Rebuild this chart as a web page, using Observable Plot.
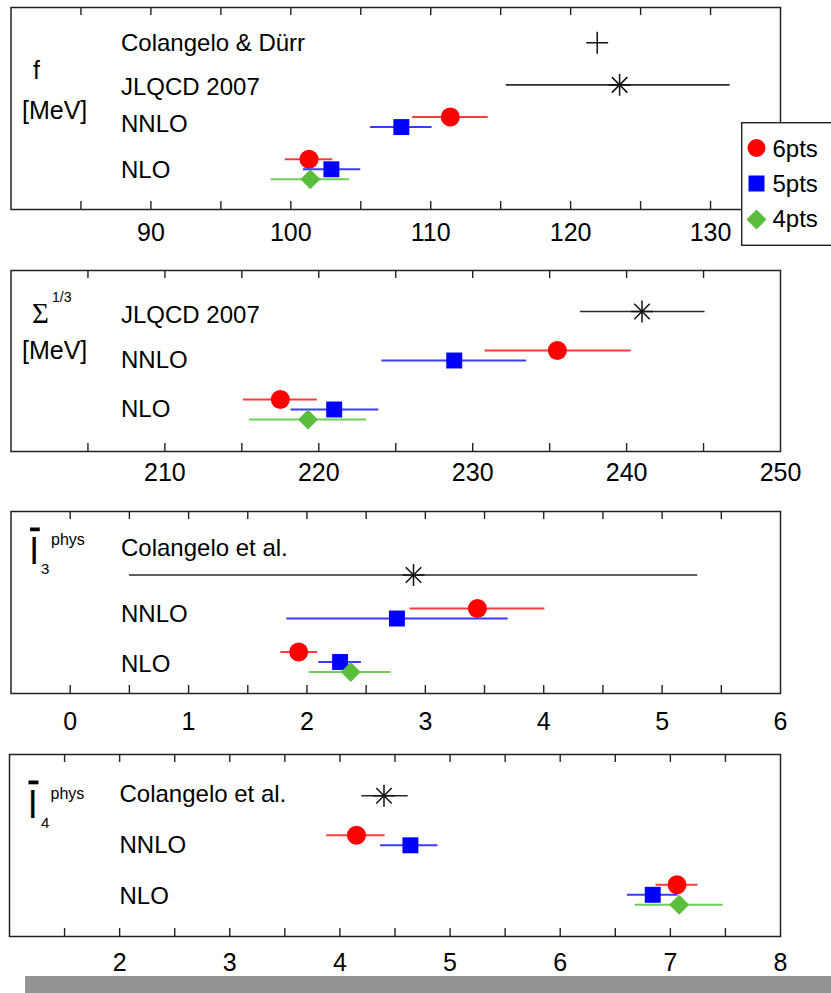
<!DOCTYPE html>
<html>
<head>
<meta charset="utf-8">
<script src="https://cdn.jsdelivr.net/npm/d3@7"></script>
<script src="https://cdn.jsdelivr.net/npm/@observablehq/plot@0.6"></script>
<style>
  body { margin: 0; background: #fff; }
  #chart { position: relative; width: 831px; height: 993px; overflow: hidden; background: #fff;
           font-family: "Liberation Sans", Arial, Helvetica, sans-serif; }
  #chart > svg { display: block; }
  #legend { position: absolute; left: 741px; top: 122px; }
  #graybar { position: absolute; left: 25px; top: 976px; width: 806px; height: 17px; background: #939393; }
</style>
</head>
<body>
<div id="chart"></div>
<script>
// ---------------- data ----------------
const seriesNames = ["6pts", "5pts", "4pts"];

// f [MeV]
const fRefNames  = ["Colangelo & Dürr", "JLQCD 2007"];
const fRefMarker = ["plus", "asterisk"];
const fRefValue  = [121.9, 123.5];
const fRefLow    = [121.9, 115.4];
const fRefHigh   = [121.9, 131.4];
const fNNLOValue = [111.4, 107.9];
const fNNLOLow   = [108.7, 105.7];
const fNNLOHigh  = [114.1, 110.1];
const fNLOValue  = [101.3, 102.9, 101.4];
const fNLOLow    = [99.6, 100.9, 98.6];
const fNLOHigh   = [103.0, 105.0, 104.2];
const fTickLabels = [90, 100, 110, 120, 130];

// Sigma^(1/3) [MeV]
const sigmaRefNames  = ["JLQCD 2007"];
const sigmaRefMarker = ["asterisk"];
const sigmaRefValue  = [241.0];
const sigmaRefLow    = [237.0];
const sigmaRefHigh   = [245.1];
const sigmaNNLOValue = [235.5, 228.8];
const sigmaNNLOLow   = [230.8, 224.1];
const sigmaNNLOHigh  = [240.3, 233.5];
const sigmaNLOValue  = [217.5, 221.0, 219.3];
const sigmaNLOLow    = [215.1, 218.2, 215.5];
const sigmaNLOHigh   = [219.9, 223.9, 223.1];
const sigmaTickLabels = [210, 220, 230, 240, 250];

// l3 bar phys
const l3RefNames  = ["Colangelo et al."];
const l3RefMarker = ["asterisk"];
const l3RefValue  = [2.9];
const l3RefLow    = [0.5];
const l3RefHigh   = [5.3];
const l3NNLOValue = [3.44, 2.76];
const l3NNLOLow   = [2.87, 1.83];
const l3NNLOHigh  = [4.01, 3.70];
const l3NLOValue  = [1.93, 2.28, 2.37];
const l3NLOLow    = [1.78, 2.10, 2.02];
const l3NLOHigh   = [2.09, 2.46, 2.71];
const l3TickLabels = [0, 1, 2, 3, 4, 5, 6];

// l4 bar phys
const l4RefNames  = ["Colangelo et al."];
const l4RefMarker = ["asterisk"];
const l4RefValue  = [4.40];
const l4RefLow    = [4.20];
const l4RefHigh   = [4.62];
const l4NNLOValue = [4.15, 4.64];
const l4NNLOLow   = [3.88, 4.37];
const l4NNLOHigh  = [4.41, 4.89];
const l4NLOValue  = [7.06, 6.84, 7.08];
const l4NLOLow    = [6.87, 6.61, 6.68];
const l4NLOHigh   = [7.25, 7.07, 7.48];
const l4TickLabels = [2, 3, 4, 5, 6, 7, 8];

// ---------------- styles ----------------
const seriesStyle = {
  "6pts": {symbol: "circle",   r: 9.5, fill: "#ff0000", line: "#ff3b3b", dy: -10},
  "5pts": {symbol: "square",   r: 9.0, fill: "#0000ff", line: "#3b3bff", dy: 0},
  "4pts": {symbol: "diamond2", r: 9.0, fill: "#5bbd3c", line: "#6fcf57", dy: 10}
};
const SANS = "Liberation Sans, Arial, Helvetica, sans-serif";
const SERIF = "Liberation Serif, Times New Roman, serif";

function buildPanel(refNames, refMarker, refValue, refLow, refHigh, nnlo, nnloLo, nnloHi, nlo, nloLo, nloHi) {
  const rows = [...refNames, "NNLO", "NLO"];
  const refs = refNames.map((n, i) => ({row: i, value: refValue[i], lo: refLow[i], hi: refHigh[i], marker: refMarker[i]}));
  const pts = [];
  nnlo.forEach((v, i) => pts.push({row: refNames.length, series: seriesNames[i], value: v, lo: nnloLo[i], hi: nnloHi[i]}));
  nlo.forEach((v, i) => pts.push({row: refNames.length + 1, series: seriesNames[i], value: v, lo: nloLo[i], hi: nloHi[i]}));
  return {rows, refs, pts};
}

const panels = [
  {
    data: buildPanel(fRefNames, fRefMarker, fRefValue, fRefLow, fRefHigh, fNNLOValue, fNNLOLow, fNNLOHigh, fNLOValue, fNLOLow, fNLOHigh),
    ticks: fTickLabels, minor: d3.range(85, 131, 5), xDomain: [80, 135],
    height: 250, mt: 7, mb: 41, ml: 10.5, tickPad: 14, yDomain: [-0.834, 3.953], labelDy: [1, 2, -3, 1],
    side: [
      {t: "f", fs: 25, dx: 22, dy: 71},
      {t: "[MeV]", fs: 25, dx: 11, dy: 111}
    ]
  },
  {
    data: buildPanel(sigmaRefNames, sigmaRefMarker, sigmaRefValue, sigmaRefLow, sigmaRefHigh, sigmaNNLOValue, sigmaNNLOLow, sigmaNNLOHigh, sigmaNLOValue, sigmaNLOLow, sigmaNLOHigh),
    ticks: sigmaTickLabels, minor: d3.range(205, 246, 5), xDomain: [200, 250],
    height: 245, mt: 20, mb: 44, ml: 10.5, tickPad: 12, yDomain: [-0.837, 2.857], labelDy: [4, 0, 0],
    side: [
      {t: "Σ", fs: 29, dx: 21, dy: 52, font: SERIF},
      {t: "1/3", fs: 14, dx: 41, dy: 31},
      {t: "[MeV]", fs: 25, dx: 11, dy: 88}
    ]
  },
  {
    data: buildPanel(l3RefNames, l3RefMarker, l3RefValue, l3RefLow, l3RefHigh, l3NNLOValue, l3NNLOLow, l3NNLOHigh, l3NLOValue, l3NLOLow, l3NLOHigh),
    ticks: l3TickLabels, minor: d3.range(0, 5.51, 0.5), xDomain: [-0.5, 6],
    height: 245, mt: 16, mb: 47, ml: 10.5, tickPad: 19, yDomain: [-1.46, 2.724], labelDy: [-27, -4, 2],
    side: [
      {t: "l", fs: 37, dx: 19, dy: 52, overline: true},
      {t: "3", fs: 15, dx: 30, dy: 62},
      {t: "phys", fs: 16, dx: 40, dy: 33}
    ]
  },
  {
    data: buildPanel(l4RefNames, l4RefMarker, l4RefValue, l4RefLow, l4RefHigh, l4NNLOValue, l4NNLOLow, l4NNLOHigh, l4NLOValue, l4NLOLow, l4NLOHigh),
    ticks: l4TickLabels, minor: d3.range(1.5, 7.51, 0.5), xDomain: [1, 8],
    height: 236, mt: 14, mb: 40, ml: 9, tickPad: 17, yDomain: [-0.834, 2.842], labelDy: [-1, 0, 2],
    side: [
      {t: "l", fs: 38, dx: 19, dy: 63, overline: true},
      {t: "4", fs: 15, dx: 31.5, dy: 73},
      {t: "phys", fs: 16, dx: 41, dy: 44.5}
    ]
  }
];

const chart = document.getElementById("chart");

for (const L of panels) {
  const FH = L.height - L.mt - L.mb;
  const {rows, refs, pts} = L.data;
  const marks = [
    Plot.frame({stroke: "#222", strokeWidth: 1.5}),
    Plot.ruleX(L.minor, {x: d => d, stroke: "#222", strokeWidth: 1.4, insetBottom: FH - 8}),
    Plot.ruleX(L.minor, {x: d => d, stroke: "#222", strokeWidth: 1.4, insetTop: FH - 8}),
    ...rows.map((name, i) => Plot.text([name], {
      y: [i], text: d => d, frameAnchor: "left", dx: 110, dy: L.labelDy[i],
      textAnchor: "start", lineAnchor: "middle", fontSize: 24, fill: "#000"
    })),
    ...L.side.map(s => Plot.text([s.t], {
      text: d => d, frameAnchor: "top-left", dx: s.dx, dy: s.dy,
      textAnchor: "start", lineAnchor: "bottom", fontSize: s.fs, fontFamily: s.font || SANS, fill: "#000"
    })),
    Plot.ruleY(refs.filter(d => d.hi > d.lo), {y: "row", x1: "lo", x2: "hi", stroke: "#2a2a2a", strokeWidth: 1.6}),
    Plot.dot(refs, {x: "value", y: "row", symbol: "plus", r: 7.1, stroke: "#111", strokeWidth: 1.5}),
    Plot.dot(refs.filter(d => d.marker === "asterisk"), {x: "value", y: "row", symbol: "times", r: 7.1, stroke: "#111", strokeWidth: 1.5})
  ];
  for (const s of seriesNames) {
    const st = seriesStyle[s];
    const sub = pts.filter(d => d.series === s);
    marks.push(Plot.ruleY(sub, {y: "row", x1: "lo", x2: "hi", stroke: st.line, strokeWidth: 2, dy: st.dy}));
    marks.push(Plot.dot(sub, {x: "value", y: "row", symbol: st.symbol, r: st.r, fill: st.fill, stroke: "none", dy: st.dy}));
  }
  const svg = Plot.plot({
    width: 831,
    height: L.height,
    marginTop: L.mt,
    marginBottom: L.mb,
    marginLeft: L.ml,
    marginRight: 51,
    style: {fontFamily: SANS, fontSize: "25px", color: "#000", background: "#fff", overflow: "visible"},
    x: {domain: L.xDomain, ticks: L.ticks, tickSize: 0, tickPadding: L.tickPad, label: null, tickFormat: d => String(d)},
    y: {domain: L.yDomain, reverse: true, axis: null},
    marks
  });
  // overline for the "l-bar" symbol (l̄)
  if (L.side.some(s => s.overline)) {
    svg.querySelectorAll("text").forEach(t => {
      if (t.textContent === "l") {
        t.style.textDecoration = "overline";
        t.style.textDecorationThickness = "1.5px";
        t.style.letterSpacing = "1.5px";
      }
    });
  }
  chart.appendChild(svg);
}

// legend
const legendNS = "http://www.w3.org/2000/svg";
const lg = document.createElementNS(legendNS, "svg");
lg.setAttribute("id", "legend");
lg.setAttribute("width", "92");
lg.setAttribute("height", "125");
const symbolPath = {
  "6pts": d3.symbol(d3.symbolCircle, Math.PI * 9 * 9)(),
  "5pts": d3.symbol(d3.symbolSquare, 256)(),
  "4pts": d3.symbol(d3.symbolDiamond2, 255)()
};
let html = `<rect x="0.7" y="0.7" width="110" height="122.6" fill="#fff" stroke="#222" stroke-width="1.4"/>`;
seriesNames.forEach((s, i) => {
  const cy = [26, 61.5, 97.5][i];
  const by = [34.5, 69.5, 104.5][i];
  html += `<path transform="translate(15.5,${cy})" d="${symbolPath[s]}" fill="${seriesStyle[s].fill}"/>`;
  html += `<text x="31.5" y="${by}" font-size="24" font-family="Liberation Sans, Arial, sans-serif" fill="#000">${s}</text>`;
});
lg.innerHTML = html;
chart.appendChild(lg);

const gb = document.createElement("div");
gb.id = "graybar";
chart.appendChild(gb);
</script>
</body>
</html>
